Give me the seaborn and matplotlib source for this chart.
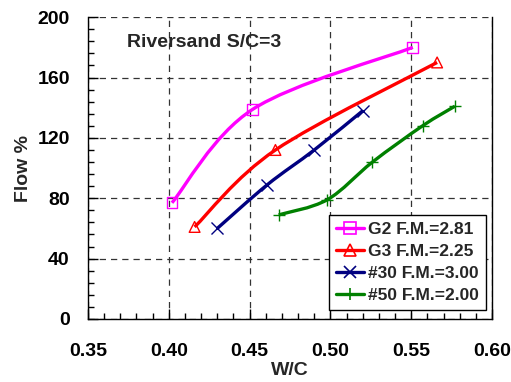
import numpy as np
import pandas as pd
import matplotlib
matplotlib.use("Agg")
import matplotlib.pyplot as plt
import seaborn as sns
from matplotlib.path import Path
from matplotlib.patches import PathPatch
from matplotlib.lines import Line2D
from matplotlib.ticker import MultipleLocator, FormatStrFormatter

# Data
g2_wc = [0.402, 0.452, 0.551]
g2_flow = [77, 139, 180]
g3_wc = [0.416, 0.466, 0.566]
g3_flow = [61, 112, 170]
n30_wc = [0.430, 0.461, 0.490, 0.520]
n30_flow = [60, 89, 112, 138]
n50_wc = [0.468, 0.498, 0.526, 0.557, 0.577]
n50_flow = [69, 79, 104, 128, 141]

labels = ["G2 F.M.=2.81", "G3 F.M.=2.25", "#30 F.M.=3.00", "#50 F.M.=2.00"]
colors = ["#FF00FF", "#FF0000", "#000080", "#008000"]
markers = ["s", "^", "x", "+"]

series = [(g2_wc, g2_flow), (g3_wc, g3_flow), (n30_wc, n30_flow), (n50_wc, n50_flow)]
rows = []
for lab, (xs, ys) in zip(labels, series):
    for x, y in zip(xs, ys):
        rows.append({"W/C": x, "Flow": y, "Mix": lab})
df = pd.DataFrame(rows)

sns.set_style("ticks")
plt.rcParams['font.family'] = ['Liberation Sans', 'DejaVu Sans']
plt.rcParams['font.weight'] = 'bold'

fig = plt.figure(figsize=(5.11, 3.82), dpi=100)
ax = fig.add_axes([0.172, 0.165, 0.791, 0.790])


def smooth_path(xs, ys):
    # Excel-style smoothed line: Catmull-Rom segments as cubic Beziers
    p = np.column_stack([xs, ys])
    n = len(p)
    verts = [p[0]]
    codes = [Path.MOVETO]
    for i in range(n - 1):
        p0 = p[i - 1] if i > 0 else p[i]
        p3 = p[i + 2] if i + 2 < n else p[i + 1]
        c1 = p[i] + (p[i + 1] - p0) / 6
        c2 = p[i + 1] - (p3 - p[i]) / 6
        verts += [c1, c2, p[i + 1]]
        codes += [Path.CURVE4] * 3
    return Path(verts, codes)


for lab, col, m, (xs, ys) in zip(labels, colors, markers, series):
    ax.add_patch(PathPatch(smooth_path(xs, ys), facecolor="none", edgecolor=col, lw=2.4, zorder=3))
    sub = df[df["Mix"] == lab]
    if m in ("s", "^"):
        sns.scatterplot(data=sub, x="W/C", y="Flow", marker=m, s=60, facecolor="none",
                        edgecolor=col, linewidth=1.0, ax=ax, legend=False, zorder=4)
    else:
        sns.scatterplot(data=sub, x="W/C", y="Flow", marker=m, s=75, color=col,
                        linewidth=1.0, ax=ax, legend=False, zorder=4)

ax.set_xlim(0.35, 0.60)
ax.set_ylim(0, 200)
ax.xaxis.set_major_locator(MultipleLocator(0.05))
ax.xaxis.set_minor_locator(MultipleLocator(0.01))
ax.yaxis.set_major_locator(MultipleLocator(40))
ax.yaxis.set_minor_locator(MultipleLocator(8))
ax.xaxis.set_major_formatter(FormatStrFormatter("%.2f"))
ax.tick_params(which="both", direction="in", colors="black", labelsize=14)
ax.tick_params(axis="x", pad=17)
ax.tick_params(axis="y", pad=13)
ax.tick_params(which="major", length=7, width=1)
ax.tick_params(which="minor", length=4, width=1)
for t in ax.get_xticklabels() + ax.get_yticklabels():
    t.set_fontweight("bold")
ax.grid(True, which="major", linestyle=(0, (5, 4)), color="#333333", linewidth=0.9)
ax.set_axisbelow(True)
ax.spines["top"].set_visible(False)
for s in ["left", "bottom", "right"]:
    ax.spines[s].set_color("black")
    ax.spines[s].set_linewidth(1.0)

ax.set_xlabel("W/C", fontsize=14, fontweight="bold", labelpad=2)
ax.set_ylabel("Flow %", fontsize=14, fontweight="bold", labelpad=4)
ax.text(0.097, 0.917, "Riversand S/C=3", transform=ax.transAxes, fontsize=14,
        fontweight="bold", va="center", ha="left")

handles = []
for lab, col, m in zip(labels, colors, markers):
    handles.append(Line2D([], [], color=col, lw=2.4, marker=m, markersize=8,
                          markerfacecolor="none", markeredgecolor=col, markeredgewidth=1.2))
leg = ax.legend(handles, labels, loc="lower right", bbox_to_anchor=(0.985, 0.03),
                frameon=True, fancybox=False, edgecolor="black", framealpha=1,
                prop={"size": 12.5, "weight": "bold"}, handlelength=1.6, handletextpad=0.25,
                borderpad=0.4, labelspacing=0.4, borderaxespad=0)
leg.get_frame().set_linewidth(1.0)

fig.savefig("out.png", dpi=100)
